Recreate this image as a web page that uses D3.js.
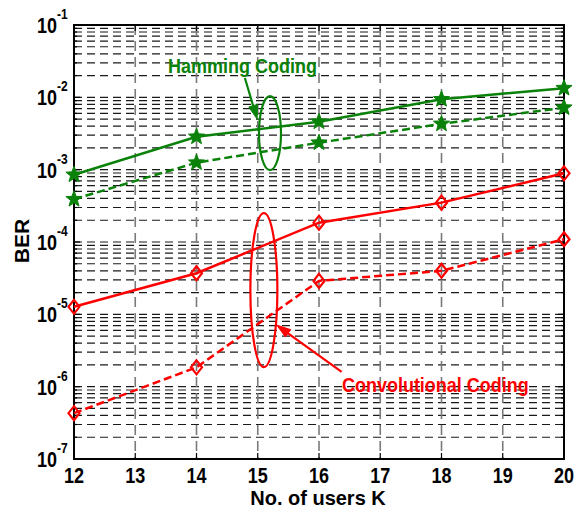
<!DOCTYPE html>
<html>
<head>
<meta charset="utf-8">
<script src="https://cdn.jsdelivr.net/npm/d3@7"></script>
<style>
  html, body { margin: 0; padding: 0; background: #fff; }
  text { font-family: "Liberation Sans", Arial, sans-serif; font-weight: bold; }
</style>
</head>
<body>
<div id="chart"></div>
<script>
// values
var users = [12, 14, 16, 18, 20];
var hammingSolid  = [8.5e-4, 2.85e-3, 4.6e-3, 9.4e-3, 1.34e-2];
var hammingDashed = [3.9e-4, 1.25e-3, 2.36e-3, 4.3e-3, 7.2e-3];
var convSolid     = [1.27e-5, 3.7e-5, 1.85e-4, 3.5e-4, 8.9e-4];
var convDashed    = [4.3e-7, 1.85e-6, 2.9e-5, 4.0e-5, 1.09e-4];
var xTicks = [12, 13, 14, 15, 16, 17, 18, 19, 20];
var yExps = [-7, -6, -5, -4, -3, -2, -1];

var green = "#0a820a", red = "#ff0000";

var margin = {top: 25, right: 11, bottom: 53, left: 74},
    width = 575 - margin.left - margin.right,
    height = 512 - margin.top - margin.bottom;

var svg = d3.select("#chart").append("svg")
    .attr("width", 575)
    .attr("height", 512);

var g = svg.append("g")
    .attr("transform", "translate(" + margin.left + "," + margin.top + ")");

var x = d3.scaleLinear().domain([12, 20]).range([0, width]);
var y = d3.scaleLog().domain([1e-7, 1e-1]).range([height, 0]);

// minor + major log ticks
var logTicks = [];
for (var e = -7; e < -1; e++) {
  for (var m = 1; m <= 9; m++) logTicks.push(m * Math.pow(10, e));
}
logTicks.push(1e-1);

// horizontal grid
g.append("g").selectAll("line")
  .data(logTicks.filter(function(v) { return v > 1e-7 && v < 1e-1; }))
  .enter().append("line")
    .attr("x1", 0).attr("x2", width)
    .attr("y1", function(d) { return y(d); })
    .attr("y2", function(d) { return y(d); })
    .attr("stroke", "#1a1a1a")
    .attr("stroke-width", 1.2)
    .attr("stroke-dasharray", "8,5");

// vertical grid
g.append("g").selectAll("line")
  .data(xTicks.slice(1, -1))
  .enter().append("line")
    .attr("x1", function(d) { return x(d); })
    .attr("x2", function(d) { return x(d); })
    .attr("y1", 0).attr("y2", height)
    .attr("stroke", "#7a7a7a")
    .attr("stroke-width", 1.6)
    .attr("stroke-dasharray", "10,6");

// axis ticks (inward, both sides)
var isMajor = function(v) { return Math.abs(Math.log10(v) - Math.round(Math.log10(v))) < 1e-6; };
var yt = g.append("g");
logTicks.forEach(function(v) {
  var len = isMajor(v) ? 6 : 3;
  yt.append("line").attr("x1", 0).attr("x2", len).attr("y1", y(v)).attr("y2", y(v))
    .attr("stroke", "#000").attr("stroke-width", 1.2);
  yt.append("line").attr("x1", width).attr("x2", width - len).attr("y1", y(v)).attr("y2", y(v))
    .attr("stroke", "#000").attr("stroke-width", 1.2);
});
xTicks.forEach(function(v) {
  yt.append("line").attr("x1", x(v)).attr("x2", x(v)).attr("y1", height).attr("y2", height - 6)
    .attr("stroke", "#000").attr("stroke-width", 1.2);
  yt.append("line").attr("x1", x(v)).attr("x2", x(v)).attr("y1", 0).attr("y2", 6)
    .attr("stroke", "#000").attr("stroke-width", 1.2);
});

// frame
g.append("rect")
  .attr("x", 0).attr("y", 0)
  .attr("width", width).attr("height", height)
  .attr("fill", "none").attr("stroke", "#000").attr("stroke-width", 2);

function addText(parent, px, py, str, size, anchor, color, sy) {
  return parent.append("text")
    .attr("transform", "translate(" + px + "," + py + ") scale(1," + (sy || 1) + ")")
    .attr("text-anchor", anchor || "middle")
    .attr("font-size", size + "px")
    .attr("fill", color || "#000")
    .text(str);
}

// x tick labels
xTicks.forEach(function(v) {
  addText(g, x(v), height + 24, v, 18, "middle", "#000", 1.18);
});

// y tick labels 10^e
yExps.forEach(function(ex) {
  addText(g, -17, y(Math.pow(10, ex)) + 8, "10", 18, "end", "#000", 1.18);
  addText(g, -17, y(Math.pow(10, ex)) - 6, String(ex), 12, "start", "#000", 1.15);
});

// axis titles
addText(svg, margin.left + width / 2 - 1, 505, "No. of users K", 20, "middle", "#000", 1.05);
svg.append("text")
  .attr("transform", "translate(29," + (margin.top + height / 2 - 1) + ") rotate(-90)")
  .attr("text-anchor", "middle")
  .attr("font-size", "21px")
  .text("BER");

// series
var line = d3.line()
  .x(function(d) { return x(d[0]); })
  .y(function(d) { return y(d[1]); });

function starPath(ro, ri) {
  var pts = [];
  for (var i = 0; i < 10; i++) {
    var r = i % 2 === 0 ? ro : ri;
    var a = -Math.PI / 2 + i * Math.PI / 5;
    pts.push([r * Math.cos(a), r * Math.sin(a)]);
  }
  return "M" + pts.map(function(p) { return p[0].toFixed(2) + "," + p[1].toFixed(2); }).join("L") + "Z";
}
var diamondPath = "M0,-7L5.5,0L0,7L-5.5,0Z";

var series = [
  {vals: hammingSolid,  color: green, dash: null,  marker: "star"},
  {vals: hammingDashed, color: green, dash: "8,4", marker: "star"},
  {vals: convSolid,     color: red,   dash: null,  marker: "diamond"},
  {vals: convDashed,    color: red,   dash: "8,4", marker: "diamond"}
];

series.forEach(function(s) {
  var pts = users.map(function(u, i) { return [u, s.vals[i]]; });
  g.append("path")
    .datum(pts)
    .attr("fill", "none")
    .attr("stroke", s.color)
    .attr("stroke-width", 2.5)
    .attr("stroke-dasharray", s.dash)
    .attr("d", line);
  g.append("g").selectAll("path")
    .data(pts)
    .enter().append("path")
      .attr("transform", function(d) { return "translate(" + x(d[0]) + "," + y(d[1]) + ")"; })
      .attr("d", s.marker === "star" ? starPath(8.5, 3.6) : diamondPath)
      .attr("fill", s.marker === "star" ? s.color : "none")
      .attr("stroke", s.color)
      .attr("stroke-width", s.marker === "star" ? 1 : 2.2);
});

// annotations
function arrow(x0, y0, x1, y1, color) {
  var ax0 = x(x0), ay0 = y(y0), ax1 = x(x1), ay1 = y(y1);
  var ang = Math.atan2(ay1 - ay0, ax1 - ax0);
  var L = 14, W = 4.5;
  var bx = ax1 - L * Math.cos(ang), by = ay1 - L * Math.sin(ang);
  g.append("line")
    .attr("x1", ax0).attr("y1", ay0).attr("x2", bx).attr("y2", by)
    .attr("stroke", color).attr("stroke-width", 2.2);
  var p1 = [bx + W * Math.sin(ang), by - W * Math.cos(ang)];
  var p2 = [bx - W * Math.sin(ang), by + W * Math.cos(ang)];
  g.append("path")
    .attr("d", "M" + ax1 + "," + ay1 + "L" + p1 + "L" + p2 + "Z")
    .attr("fill", color).attr("stroke", color).attr("stroke-width", 1);
}

g.append("ellipse")
  .attr("cx", x(15.2)).attr("cy", y(3.2e-3))
  .attr("rx", 11).attr("ry", 37)
  .attr("fill", "none").attr("stroke", green).attr("stroke-width", 2.2);
arrow(14.79, 1.85e-2, 14.99, 5.0e-3, green);
addText(g, x(14.75), y(2.17e-2), "Hamming Coding", 18, "middle", green, 1.12);

g.append("ellipse")
  .attr("cx", x(15.1)).attr("cy", y(2.16e-5))
  .attr("rx", 13.5).attr("ry", 77)
  .attr("fill", "none").attr("stroke", red).attr("stroke-width", 2.2);
arrow(16.37, 1.6e-6, 15.31, 7.1e-6, red);
addText(g, x(17.9), y(8.4e-7), "Convolutional Coding", 18, "middle", red, 1.12);
</script>
</body>
</html>
